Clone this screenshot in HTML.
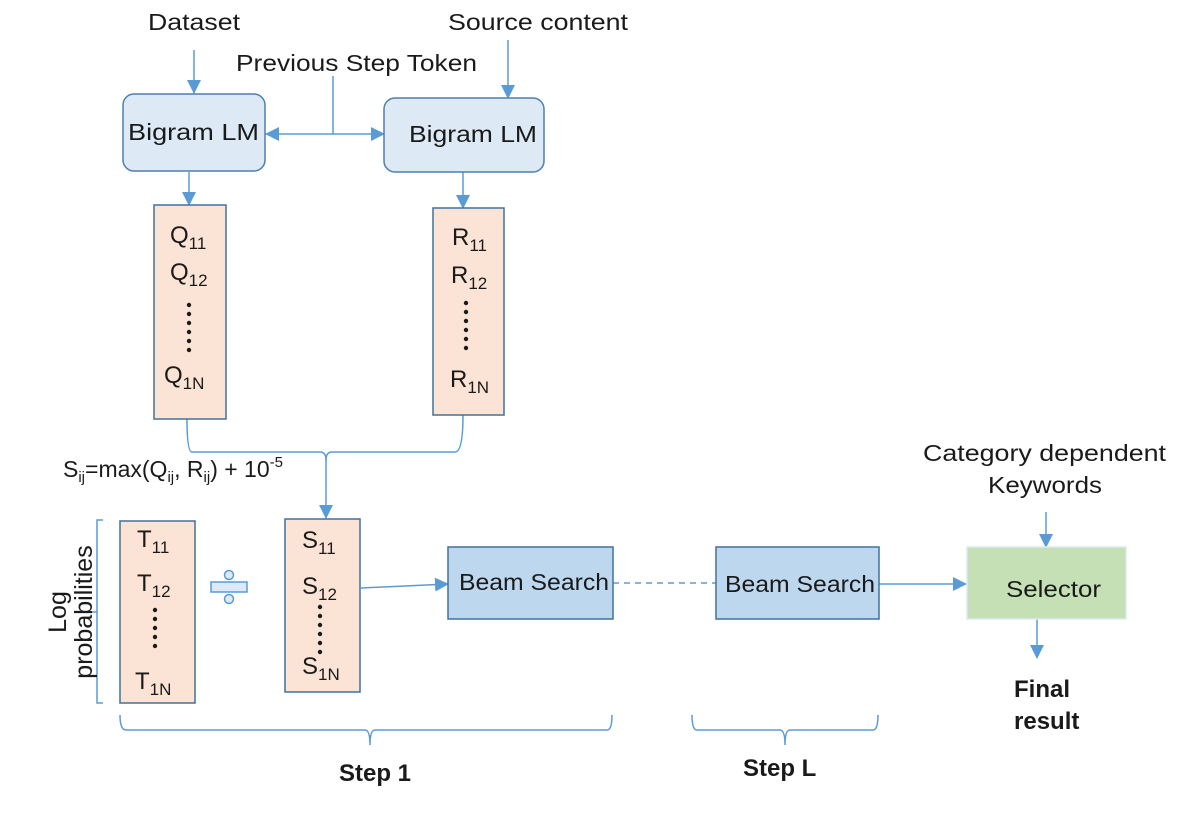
<!DOCTYPE html>
<html><head><meta charset="utf-8"><style>
html,body{margin:0;padding:0;background:#fff;}
svg{display:block;font-family:"Liberation Sans",sans-serif;}
</style></head><body>
<svg width="1196" height="824" viewBox="0 0 1196 824" xmlns="http://www.w3.org/2000/svg">
<defs>
<marker id="a" markerWidth="14" markerHeight="14" refX="13" refY="7" orient="auto" markerUnits="userSpaceOnUse">
<path d="M0,0 L14,7 L0,14 z" fill="#5b9bd5"/></marker>
</defs>
<g fill="#1a1a1a" font-size="23">
<text x="148" y="30" textLength="92" lengthAdjust="spacingAndGlyphs">Dataset</text>
<text x="448" y="30" textLength="180" lengthAdjust="spacingAndGlyphs">Source content</text>
<text x="236" y="71" textLength="241" lengthAdjust="spacingAndGlyphs">Previous Step Token</text>
</g>
<g stroke="#5b9bd5" stroke-width="1.5" fill="none">
<line x1="194" y1="50" x2="194" y2="93" marker-end="url(#a)"/>
<line x1="508" y1="40" x2="508" y2="98" marker-end="url(#a)"/>
<line x1="333" y1="76" x2="333" y2="134"/>
<line x1="333" y1="134" x2="266" y2="134" marker-end="url(#a)"/>
<line x1="333" y1="134" x2="384" y2="134" marker-end="url(#a)"/>
<line x1="189" y1="172" x2="189" y2="205" marker-end="url(#a)"/>
<line x1="463" y1="172" x2="463" y2="208" marker-end="url(#a)"/>
<path d="M187,419 Q187,452 192,452 L320,452 Q326,452 326,460 L326,518" marker-end="url(#a)"/>
<path d="M463,415 Q463,452 455,452 L332,452 Q326,452 326,460"/>
<line x1="361" y1="588" x2="448" y2="584" marker-end="url(#a)"/>
<line x1="613" y1="583" x2="716" y2="583" stroke-dasharray="6,5"/>
<line x1="879" y1="584" x2="966" y2="584" marker-end="url(#a)"/>
<line x1="1046" y1="512" x2="1046" y2="547" marker-end="url(#a)"/>
<line x1="1037" y1="619" x2="1037" y2="658" marker-end="url(#a)"/>
<path d="M103,520 L97,520 L97,703 L103,703 M97,612 L88,612"/>
<path d="M120,715 Q120,730 126,730 L365,730 Q370,730 370,745 Q370,730 375,730 L607,730 Q612,730 612,715"/>
<path d="M692,715 Q692,730 697,730 L780,730 Q785,730 785,745 Q785,730 790,730 L873,730 Q878,730 878,715"/>
</g>
<rect x="123" y="94" width="142" height="77" rx="11" fill="#dde9f5" stroke="#4e7faf" stroke-width="1.5"/>
<rect x="384" y="98" width="160" height="74" rx="11" fill="#dde9f5" stroke="#4e7faf" stroke-width="1.5"/>
<g fill="#1a1a1a" font-size="23">
<text x="128" y="140" textLength="131" lengthAdjust="spacingAndGlyphs">Bigram LM</text>
<text x="409" y="142" textLength="128" lengthAdjust="spacingAndGlyphs">Bigram LM</text>
</g>
<g fill="#fbe4d5" stroke="#41719c" stroke-width="1.5">
<rect x="154" y="205" width="72" height="214"/>
<rect x="433" y="208" width="71" height="207"/>
<rect x="120" y="521" width="75" height="182"/>
<rect x="285" y="519" width="75" height="173"/>
</g>
<rect x="448" y="547" width="165" height="72" fill="#bdd7ee" stroke="#41719c" stroke-width="1.5"/>
<rect x="716" y="547" width="163" height="72" fill="#bdd7ee" stroke="#41719c" stroke-width="1.5"/>
<rect x="967" y="547" width="159" height="72" fill="#c5e0b4" stroke="#dbe9f5" stroke-width="1.5"/>
<g fill="#1a1a1a" font-size="23">
<text x="459" y="590" textLength="150" lengthAdjust="spacingAndGlyphs">Beam Search</text>
<text x="725" y="592" textLength="150" lengthAdjust="spacingAndGlyphs">Beam Search</text>
<text x="1006" y="597" textLength="95" lengthAdjust="spacingAndGlyphs">Selector</text>
<text x="923" y="461" textLength="243" lengthAdjust="spacingAndGlyphs">Category dependent</text>
<text x="988" y="493" textLength="114" lengthAdjust="spacingAndGlyphs">Keywords</text>
</g>
<g fill="#1a1a1a" font-size="24" font-weight="bold">
<text x="1014" y="697">Final</text>
<text x="1014" y="729">result</text>
<text x="339" y="781">Step 1</text>
<text x="743" y="776">Step L</text>
</g>
<g fill="#1a1a1a" font-size="24">
<text x="170" y="243">Q<tspan font-size="17" dy="6">11</tspan></text>
<text x="170" y="280">Q<tspan font-size="17" dy="6">12</tspan></text>
<text x="164" y="383">Q<tspan font-size="17" dy="6">1N</tspan></text>
<text x="452" y="245">R<tspan font-size="17" dy="6">11</tspan></text>
<text x="451" y="283">R<tspan font-size="17" dy="6">12</tspan></text>
<text x="450" y="387">R<tspan font-size="17" dy="6">1N</tspan></text>
<text x="137" y="547">T<tspan font-size="17" dy="6">11</tspan></text>
<text x="137" y="591">T<tspan font-size="17" dy="6">12</tspan></text>
<text x="135" y="689">T<tspan font-size="17" dy="6">1N</tspan></text>
<text x="302" y="548">S<tspan font-size="17" dy="6">11</tspan></text>
<text x="302" y="594">S<tspan font-size="17" dy="6">12</tspan></text>
<text x="302" y="674">S<tspan font-size="17" dy="6">1N</tspan></text>
</g>
<g fill="#1a1a1a" font-size="23">
<text x="63" y="477">S<tspan font-size="15" dy="5">ij</tspan><tspan dy="-5">=max(Q</tspan><tspan font-size="15" dy="5">ij</tspan><tspan dy="-5">, R</tspan><tspan font-size="15" dy="5">ij</tspan><tspan dy="-5">) + 10</tspan><tspan font-size="15" dy="-10">-5</tspan></text>
</g>
<g fill="#1a1a1a" font-size="25">
<text transform="translate(66,612) rotate(-90)" text-anchor="middle" x="0" y="0">Log</text>
<text transform="translate(92,612) rotate(-90)" text-anchor="middle" x="0" y="0">probabilities</text>
</g>
<g fill="#1a1a1a">
<circle cx="189" cy="305" r="2.2"/><circle cx="189" cy="314" r="2.2"/><circle cx="189" cy="323" r="2.2"/><circle cx="189" cy="332" r="2.2"/><circle cx="189" cy="341" r="2.2"/><circle cx="189" cy="350" r="2.2"/>
<circle cx="466" cy="303" r="2.2"/><circle cx="466" cy="312" r="2.2"/><circle cx="466" cy="321" r="2.2"/><circle cx="466" cy="330" r="2.2"/><circle cx="466" cy="339" r="2.2"/><circle cx="466" cy="348" r="2.2"/>
<circle cx="155" cy="610" r="2.2"/><circle cx="155" cy="619" r="2.2"/><circle cx="155" cy="628" r="2.2"/><circle cx="155" cy="637" r="2.2"/><circle cx="155" cy="646" r="2.2"/>
<circle cx="320" cy="607" r="2.2"/><circle cx="320" cy="616" r="2.2"/><circle cx="320" cy="625" r="2.2"/><circle cx="320" cy="634" r="2.2"/><circle cx="320" cy="643" r="2.2"/><circle cx="320" cy="652" r="2.2"/>
</g>
<g fill="#dde9f5" stroke="#5b9bd5" stroke-width="1.5">
<rect x="211" y="582" width="36" height="10"/>
<circle cx="229" cy="575" r="4.5"/>
<circle cx="229" cy="599" r="4.5"/>
</g>
</svg>
</body></html>
